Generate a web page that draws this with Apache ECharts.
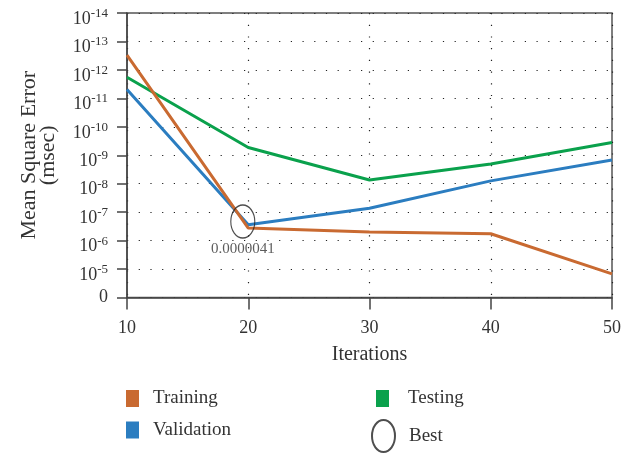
<!DOCTYPE html>
<html><head><meta charset="utf-8">
<script src="https://cdn.jsdelivr.net/npm/echarts@6/dist/echarts.min.js"></script>
<style>html,body{margin:0;padding:0;background:#fff}#c{width:624px;height:457px}</style>
</head><body><div id="c"></div>
<script>
const iterations = [10, 20, 30, 40, 50];
// positions on the axis scale: 0 = "0", 1 = 10^-5, ..., 10 = 10^-14
const training   = [8.52, 2.44, 2.30, 2.24, 0.83];
const validation = [7.31, 2.56, 3.14, 4.10, 4.83];
const testing    = [7.74, 5.27, 4.13, 4.69, 5.45];
const bestPoint  = [19.55, 2.67];
const bestLabel  = '0.0000041';
const yTickLabels = ['0', '-5', '-6', '-7', '-8', '-9', '-10', '-11', '-12', '-13', '-14'];

const FONT = '"Liberation Serif", "DejaVu Serif", serif';
const TXT = '#333';
const ellipsePath = 'path://M0,-1 A1,1 0 1,1 0,1 A1,1 0 1,1 0,-1 Z';

const chart = echarts.init(document.getElementById('c'), null, {renderer: 'canvas'});
const dotted = {show: true, lineStyle: {color: '#222', width: 1.2, type: [1.2, 10.5]}};

function leg(name, left, top, w, h, pad, icon) {
  return {
    left: left, top: top, orient: 'vertical', itemWidth: w, itemHeight: h, padding: 0,
    symbolKeepAspect: false,
    textStyle: {fontSize: 19, color: TXT, fontFamily: FONT, lineHeight: 17, padding: [0, 0, 0, pad]},
    data: [{name: name, icon: icon}]
  };
}

chart.setOption({
  animation: false,
  textStyle: {fontFamily: FONT, color: TXT},
  grid: {left: 127, right: 10, top: 13, bottom: 159.5, show: true, borderColor: '#555', borderWidth: 1.5, containLabel: false},
  xAxis: {
    type: 'value', min: 10, max: 50, interval: 10,
    axisLine: {show: true, onZero: false, lineStyle: {color: '#444', width: 1.5}},
    axisTick: {show: true, length: 12, lineStyle: {color: '#444', width: 1.5}},
    axisLabel: {margin: 22, fontSize: 18, color: TXT, fontFamily: FONT},
    splitLine: dotted,
    name: 'Iterations', nameLocation: 'middle', nameGap: 47,
    nameTextStyle: {fontSize: 20, color: TXT, fontFamily: FONT}
  },
  yAxis: {
    type: 'value', min: 0, max: 10, interval: 1,
    axisLine: {show: true, lineStyle: {color: '#444', width: 1.5}},
    axisTick: {show: true, length: 10, lineStyle: {color: '#444', width: 1.5}},
    axisLabel: {
      margin: 19, color: TXT, fontFamily: FONT,
      formatter: function (v) {
        const s = yTickLabels[Math.round(v)];
        if (s === '0') return '{z|0}';
        return '{b|10}{s|' + s + '}';
      },
      rich: {
        z: {fontSize: 18, fontFamily: FONT, color: TXT, lineHeight: 18},
        b: {fontSize: 18, fontFamily: FONT, color: TXT, lineHeight: 18, padding: [6, 0, 0, 0], verticalAlign: 'top'},
        s: {fontSize: 13, fontFamily: FONT, color: TXT, lineHeight: 13, padding: [3, 0, 0, 0], verticalAlign: 'top'}
      }
    },
    splitLine: dotted,
    name: 'Mean Square Error\n(msec)', nameLocation: 'middle', nameGap: 69, nameRotate: 90,
    nameTextStyle: {fontSize: 22, color: TXT, fontFamily: FONT, lineHeight: 19}
  },
  legend: [
    leg('Training', 126, 389, 13, 17, 9, 'rect'),
    leg('Validation', 126, 420.5, 13, 17, 9, 'rect'),
    leg('Testing', 376, 389, 13, 17, 14, 'rect'),
    leg('Best', 371, 419, 23, 32, 9, ellipsePath)
  ],
  series: [
    {name: 'Training', type: 'line', data: iterations.map((x, i) => [x, training[i]]),
     showSymbol: false, lineStyle: {color: '#C96A31', width: 3}, itemStyle: {color: '#C96A31'}, z: 3},
    {name: 'Validation', type: 'line', data: iterations.map((x, i) => [x, validation[i]]),
     showSymbol: false, lineStyle: {color: '#2B7DC0', width: 3}, itemStyle: {color: '#2B7DC0'}, z: 2},
    {name: 'Testing', type: 'line', data: iterations.map((x, i) => [x, testing[i]]),
     showSymbol: false, lineStyle: {color: '#0AA14C', width: 3}, itemStyle: {color: '#0AA14C'}, z: 2},
    {name: 'Best', type: 'scatter', data: [bestPoint], symbol: ellipsePath, symbolSize: [24, 33],
     itemStyle: {color: 'rgba(0,0,0,0)', borderColor: '#222', borderWidth: 1.3}, z: 4,
     label: {show: true, position: 'bottom', distance: 3, formatter: bestLabel, fontSize: 15, color: TXT, fontFamily: FONT}}
  ]
});
</script></body></html>
